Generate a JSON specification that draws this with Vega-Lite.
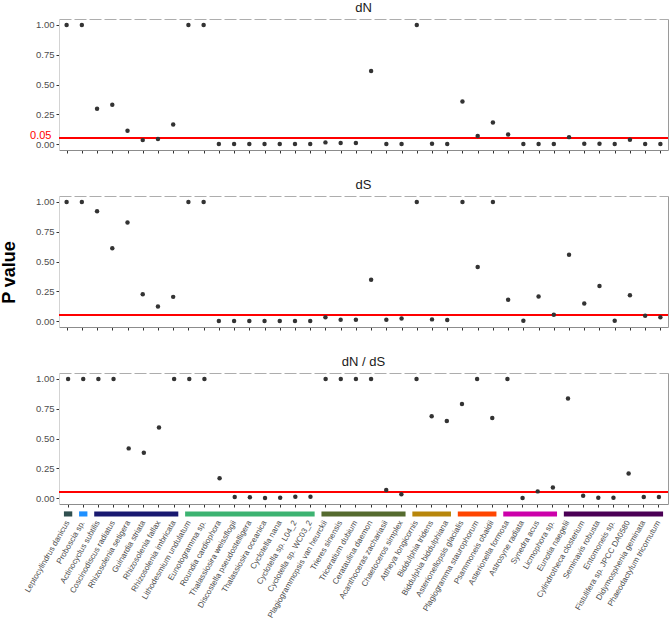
{
  "$schema": "https://vega.github.io/schema/vega-lite/v6.json",
  "padding": {"left": 0, "top": 2, "right": 0, "bottom": 0},
  "config": {
    "font": "Liberation Sans",
    "view": {"stroke": null},
    "axis": {"grid": false, "labelColor": "#4D4D4D", "tickColor": "#333333", "titleColor": "#000000"},
    "title": {"fontSize": 13, "fontWeight": "normal", "color": "#1A1A1A", "offset": 4, "anchor": "middle"}
  },
  "datasets": {
    "pv": [
      {"species": "Leptocylindrus danicus", "dN": 1, "dS": 1, "dNdS": 1},
      {"species": "Proboscia sp.", "dN": 1, "dS": 1, "dNdS": 1},
      {"species": "Actinocyclus subtilis", "dN": 0.297, "dS": 0.922, "dNdS": 1},
      {"species": "Coscinodiscus radiatus", "dN": 0.33, "dS": 0.611, "dNdS": 1},
      {"species": "Rhizosolenia setigera", "dN": 0.111, "dS": 0.828, "dNdS": 0.417},
      {"species": "Guinardia striata", "dN": 0.033, "dS": 0.225, "dNdS": 0.381},
      {"species": "Rhizosolenia fallax", "dN": 0.042, "dS": 0.122, "dNdS": 0.592},
      {"species": "Rhizosolenia imbricata", "dN": 0.164, "dS": 0.203, "dNdS": 1},
      {"species": "Lithodesmium undulatum", "dN": 1, "dS": 1, "dNdS": 1},
      {"species": "Eunotogramma sp.", "dN": 1, "dS": 1, "dNdS": 1},
      {"species": "Roundia cardiophora", "dN": 0, "dS": 0, "dNdS": 0.167},
      {"species": "Thalassiosira weissflogii", "dN": 0, "dS": 0, "dNdS": 0.008},
      {"species": "Discostella pseudostelligera", "dN": 0, "dS": 0, "dNdS": 0.006},
      {"species": "Thalassiosira oceanica", "dN": 0, "dS": 0, "dNdS": 0},
      {"species": "Cyclotella nana", "dN": 0, "dS": 0, "dNdS": 0.003},
      {"species": "Cyclotella sp. L04_2", "dN": 0, "dS": 0, "dNdS": 0.011},
      {"species": "Cyclotella sp. WC03_2", "dN": 0, "dS": 0, "dNdS": 0.011},
      {"species": "Plagiogrammopsis van heurckii", "dN": 0.014, "dS": 0.031, "dNdS": 1},
      {"species": "Trieres sinensis", "dN": 0.008, "dS": 0.011, "dNdS": 1},
      {"species": "Triceratium dubium", "dN": 0.008, "dS": 0.011, "dNdS": 1},
      {"species": "Cerataulina daemon", "dN": 0.614, "dS": 0.347, "dNdS": 1},
      {"species": "Acanthoceras zachariasii", "dN": 0, "dS": 0.011, "dNdS": 0.067},
      {"species": "Chaetoceros simplex", "dN": 0, "dS": 0.022, "dNdS": 0.031},
      {"species": "Attheya longicornis", "dN": 1, "dS": 1, "dNdS": 1},
      {"species": "Biddulphia tridens", "dN": 0.003, "dS": 0.014, "dNdS": 0.686},
      {"species": "Biddulphia biddulphiana", "dN": 0, "dS": 0.008, "dNdS": 0.647},
      {"species": "Asterionellopsis glacialis", "dN": 0.358, "dS": 1, "dNdS": 0.789},
      {"species": "Plagiogramma staurophorum", "dN": 0.067, "dS": 0.453, "dNdS": 1},
      {"species": "Psammoneis obaidii", "dN": 0.18, "dS": 1, "dNdS": 0.672},
      {"species": "Asterionella formosa", "dN": 0.08, "dS": 0.178, "dNdS": 1},
      {"species": "Astrosyne radiata", "dN": 0, "dS": 0.003, "dNdS": 0},
      {"species": "Synedra acus", "dN": 0, "dS": 0.206, "dNdS": 0.056},
      {"species": "Licmophora sp.", "dN": 0, "dS": 0.053, "dNdS": 0.089},
      {"species": "Eunotia naegelii", "dN": 0.058, "dS": 0.556, "dNdS": 0.836},
      {"species": "Cylindrotheca closterium", "dN": 0.003, "dS": 0.147, "dNdS": 0.019},
      {"species": "Seminavis robusta", "dN": 0.003, "dS": 0.294, "dNdS": 0.003},
      {"species": "Entomoneis sp.", "dN": 0, "dS": 0.003, "dNdS": 0.003},
      {"species": "Fistulifera sp. JPCC DA0580", "dN": 0.036, "dS": 0.217, "dNdS": 0.206},
      {"species": "Didymosphenia geminata", "dN": 0, "dS": 0.044, "dNdS": 0.008},
      {"species": "Phaeodactylum tricornutum", "dN": 0, "dS": 0.031, "dNdS": 0.008}
    ],
    "groups": [
      {"group": "g1", "first": "Leptocylindrus danicus", "last": "Leptocylindrus danicus"},
      {"group": "g2", "first": "Proboscia sp.", "last": "Proboscia sp."},
      {"group": "g3", "first": "Actinocyclus subtilis", "last": "Rhizosolenia imbricata"},
      {"group": "g4", "first": "Lithodesmium undulatum", "last": "Cyclotella sp. WC03_2"},
      {"group": "g5", "first": "Plagiogrammopsis van heurckii", "last": "Chaetoceros simplex"},
      {"group": "g6", "first": "Attheya longicornis", "last": "Biddulphia biddulphiana"},
      {"group": "g7", "first": "Asterionellopsis glacialis", "last": "Psammoneis obaidii"},
      {"group": "g8", "first": "Asterionella formosa", "last": "Licmophora sp."},
      {"group": "g9", "first": "Eunotia naegelii", "last": "Phaeodactylum tricornutum"}
    ]
  },
  "vconcat": [
    {
      "title": "dN",
      "width": 609, "height": 131,
      "data": {"name": "pv"},
      "layer": [
        {
          "mark": {"type": "rule", "color": "#FF0000", "strokeWidth": 1.4},
          "encoding": {"y": {"datum": 0.05, "type": "quantitative", "scale": {"domain": [-0.05, 1.05], "nice": false, "zero": false}, "axis": null}}
        },
        {
          "mark": {"type": "point", "filled": true, "color": "#333333", "opacity": 1, "size": 20},
          "encoding": {
            "x": {"field": "species", "type": "nominal", "sort": null, "scale": {"paddingInner": 0, "paddingOuter": 0.1}, "axis": {"labels": false, "title": null, "tickSize": 3, "domainColor": "#8C8C8C", "orient": "bottom"}},
            "y": {"field": "dN", "type": "quantitative", "scale": {"domain": [-0.05, 1.05], "nice": false, "zero": false},
              "axis": {"orient": "left", "title": null, "values": [0, 0.05, 0.25, 0.5, 0.75, 1], "format": ".2f", "labelOverlap": false, "labelFontSize": {"condition": {"test": "datum.value == 0.05", "value": 11}, "value": 9.5},
                "labelColor": {"condition": {"test": "datum.value == 0.05", "value": "#FF0000"}, "value": "#4D4D4D"},
                "tickColor": {"condition": {"test": "datum.value == 0.05", "value": "transparent"}, "value": "#333333"},
                "labelOffset": {"condition": {"test": "datum.value == 0.05", "value": -3}, "value": 0},
                "labelPadding": {"condition": {"test": "datum.value == 0.05", "value": 5}, "value": 2},
                "tickSize": 3, "domainColor": "#D3D3D3"}}
          }
        },
        {
          "mark": {"type": "point", "opacity": 0},
          "encoding": {
            "x": {"field": "species", "type": "nominal", "sort": null, "axis": {"orient": "top", "labels": false, "ticks": false, "title": null, "domainColor": "#ADADAD", "domainDash": [12, 3]}},
            "y": {"field": "dN", "type": "quantitative", "axis": {"orient": "right", "labels": false, "ticks": false, "title": null, "domainColor": "#9A9A9A"}}
          }
        }
      ],
      "resolve": {"axis": {"x": "independent", "y": "independent"}}
    },
    {
      "title": "dS",
      "width": 609, "height": 131,
      "data": {"name": "pv"},
      "layer": [
        {
          "mark": {"type": "rule", "color": "#FF0000", "strokeWidth": 1.4},
          "encoding": {"y": {"datum": 0.05, "type": "quantitative", "scale": {"domain": [-0.05, 1.05], "nice": false, "zero": false}, "axis": null}}
        },
        {
          "mark": {"type": "point", "filled": true, "color": "#333333", "opacity": 1, "size": 20},
          "encoding": {
            "x": {"field": "species", "type": "nominal", "sort": null, "scale": {"paddingInner": 0, "paddingOuter": 0.1}, "axis": {"labels": false, "title": null, "tickSize": 3, "domainColor": "#8C8C8C", "orient": "bottom"}},
            "y": {"field": "dS", "type": "quantitative", "scale": {"domain": [-0.05, 1.05], "nice": false, "zero": false},
              "axis": {"orient": "left", "title": "P value", "titleFontSize": 18, "titleFontWeight": "bold", "titlePadding": 17, "titleY": 76, "values": [0, 0.25, 0.5, 0.75, 1], "format": ".2f", "labelFontSize": 9.5, "labelPadding": 2, "tickSize": 3, "domainColor": "#D3D3D3"}}
          }
        },
        {
          "mark": {"type": "point", "opacity": 0},
          "encoding": {
            "x": {"field": "species", "type": "nominal", "sort": null, "axis": {"orient": "top", "labels": false, "ticks": false, "title": null, "domainColor": "#ADADAD", "domainDash": [12, 3]}},
            "y": {"field": "dS", "type": "quantitative", "axis": {"orient": "right", "labels": false, "ticks": false, "title": null, "domainColor": "#9A9A9A"}}
          }
        }
      ],
      "resolve": {"axis": {"x": "independent", "y": "independent"}}
    },
    {
      "title": "dN / dS",
      "width": 609, "height": 131,
      "layer": [
        {
          "data": {"name": "pv"},
          "mark": {"type": "rule", "color": "#FF0000", "strokeWidth": 1.4},
          "encoding": {"y": {"datum": 0.05, "type": "quantitative", "scale": {"domain": [-0.05, 1.05], "nice": false, "zero": false}, "axis": null}}
        },
        {
          "data": {"name": "pv"},
          "mark": {"type": "point", "filled": true, "color": "#333333", "opacity": 1, "size": 20},
          "encoding": {
            "x": {"field": "species", "type": "nominal", "sort": null,
              "scale": {"paddingInner": 0, "paddingOuter": 0.1, "domain": ["Leptocylindrus danicus", "Proboscia sp.", "Actinocyclus subtilis", "Coscinodiscus radiatus", "Rhizosolenia setigera", "Guinardia striata", "Rhizosolenia fallax", "Rhizosolenia imbricata", "Lithodesmium undulatum", "Eunotogramma sp.", "Roundia cardiophora", "Thalassiosira weissflogii", "Discostella pseudostelligera", "Thalassiosira oceanica", "Cyclotella nana", "Cyclotella sp. L04_2", "Cyclotella sp. WC03_2", "Plagiogrammopsis van heurckii", "Trieres sinensis", "Triceratium dubium", "Cerataulina daemon", "Acanthoceras zachariasii", "Chaetoceros simplex", "Attheya longicornis", "Biddulphia tridens", "Biddulphia biddulphiana", "Asterionellopsis glacialis", "Plagiogramma staurophorum", "Psammoneis obaidii", "Asterionella formosa", "Astrosyne radiata", "Synedra acus", "Licmophora sp.", "Eunotia naegelii", "Cylindrotheca closterium", "Seminavis robusta", "Entomoneis sp.", "Fistulifera sp. JPCC DA0580", "Didymosphenia geminata", "Phaeodactylum tricornutum"]},
              "axis": {"title": null, "tickSize": 3, "domainColor": "#8C8C8C", "orient": "bottom", "labelAngle": -60, "labelAlign": "right", "labelBaseline": "middle", "labelFontSize": 8, "labelPadding": 14, "labelOverlap": false, "labelBound": false, "labelLimit": 300}},
            "y": {"field": "dNdS", "type": "quantitative", "scale": {"domain": [-0.05, 1.05], "nice": false, "zero": false},
              "axis": {"orient": "left", "title": null, "values": [0, 0.25, 0.5, 0.75, 1], "format": ".2f", "labelFontSize": 9.5, "labelPadding": 2, "tickSize": 3, "domainColor": "#D3D3D3"}}
          }
        },
        {
          "data": {"name": "pv"},
          "mark": {"type": "point", "opacity": 0},
          "encoding": {
            "x": {"field": "species", "type": "nominal", "sort": null, "axis": {"orient": "top", "labels": false, "ticks": false, "title": null, "domainColor": "#ADADAD", "domainDash": [12, 3]}},
            "y": {"field": "dNdS", "type": "quantitative", "axis": {"orient": "right", "labels": false, "ticks": false, "title": null, "domainColor": "#9A9A9A"}}
          }
        },
        {
          "data": {"name": "groups"},
          "mark": {"type": "rect", "clip": false},
          "encoding": {
            "x": {"field": "first", "type": "nominal", "bandPosition": 0.225, "axis": null},
            "x2": {"field": "last", "bandPosition": 0.775},
            "y": {"datum": -0.112, "type": "quantitative", "axis": null},
            "y2": {"datum": -0.155},
            "color": {"field": "group", "type": "nominal", "legend": null,
              "scale": {"domain": ["g1", "g2", "g3", "g4", "g5", "g6", "g7", "g8", "g9"],
                "range": ["#2F4F4F", "#1E90FF", "#191970", "#3CB371", "#556B2F", "#B8860B", "#FF4500", "#CC00AA", "#4B0055"]}}
          }
        }
      ],
      "resolve": {"axis": {"x": "independent", "y": "independent"}}
    }
  ],
  "spacing": 25
}
